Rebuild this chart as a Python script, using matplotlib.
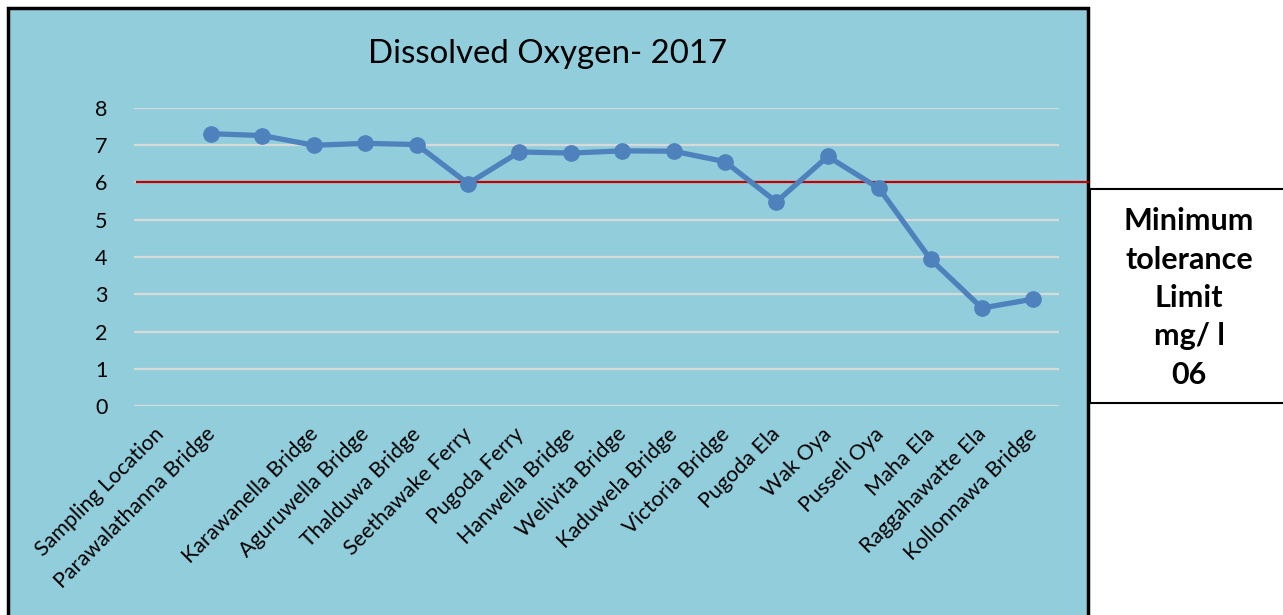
import matplotlib
matplotlib.use("Agg")
import matplotlib.pyplot as plt
from matplotlib.patches import Rectangle
from matplotlib.transforms import ScaledTranslation, blended_transform_factory
import numpy as np

plt.rcParams['font.family'] = ['Lato', 'DejaVu Sans']

# ---- data ----
categories = ["Sampling Location", "Parawalathanna Bridge", "", "Karawanella Bridge",
              "Aguruwella Bridge", "Thalduwa Bridge", "Seethawake Ferry", "Pugoda Ferry",
              "Hanwella Bridge", "Welivita Bridge", "Kaduwela Bridge", "Victoria Bridge",
              "Pugoda Ela", "Wak Oya", "Pusseli Oya", "Maha Ela", "Raggahawatte Ela",
              "Kollonnawa Bridge"]
do_values = [np.nan, 7.31, 7.26, 7.00, 7.05, 7.02, 5.97, 6.82, 6.79, 6.85, 6.84,
             6.56, 5.48, 6.70, 5.84, 3.94, 2.63, 2.87]
limit_value = 6
y_ticks = [0, 1, 2, 3, 4, 5, 6, 7, 8]
title = "Dissolved Oxygen- 2017"
box_text = "Minimum\ntolerance\nLimit\nmg/ l\n06"

W, H = 1283, 615
fig = plt.figure(figsize=(W / 100, H / 100), dpi=100)
fig.patch.set_facecolor("white")

def fx(px):
    return px / W

def fy(py):
    return 1 - py / H

# chart area background + border
bg = Rectangle((fx(8), fy(640)), fx(1088) - fx(8), fy(8) - fy(640),
               transform=fig.transFigure, facecolor="#92CDDC",
               edgecolor="black", linewidth=2.5, zorder=-1)
fig.patches.append(bg)

ax = fig.add_axes([fx(134), fy(406), fx(1059) - fx(134), fy(108) - fy(406)])
ax.set_zorder(1)
ax.set_facecolor("none")
x = np.arange(len(categories))
ax.plot(x, do_values, color="#4F81BD", linewidth=3.8, marker="o",
        markersize=11, zorder=3, solid_capstyle="round")
ax.set_xlim(-0.5, len(categories) - 0.5)
ax.set_ylim(0, 8)
ax.set_yticks(y_ticks)
ax.set_xticks(x)
ax.set_xticklabels([])

# category labels, positioned on the category axis with a pixel offset
lab_tr = blended_transform_factory(ax.transData, ax.transAxes) + \
    ScaledTranslation(-6 / 100, -18 / 100, fig.dpi_scale_trans)
for xi, name in zip(x, categories):
    ax.text(xi, 0, name, transform=lab_tr, rotation=45, ha="right", va="top",
            rotation_mode="anchor", fontsize=15.5, clip_on=False)

ax.tick_params(axis="x", length=0)
ax.tick_params(axis="y", length=0, pad=19, labelsize=15.5)
for s in ax.spines.values():
    s.set_visible(False)
ax.yaxis.grid(True, color="#D9D9D9", linewidth=1.6, zorder=1)
ax.set_axisbelow(True)

# red limit line extending to chart border
tr = blended_transform_factory(ax.transAxes, ax.transData)
x_end = (1088 - 134) / (1059 - 134)
ax.plot([0.003, x_end], [limit_value, limit_value], color="#C00000",
        linewidth=1.6, transform=tr, clip_on=False, zorder=2)

fig.text(fx(548), fy(54), title, ha="center", va="center", fontsize=23.8)

# annotation box
box = Rectangle((fx(1090), fy(403)), fx(1300) - fx(1090), fy(189) - fy(403),
                transform=fig.transFigure, facecolor="white", edgecolor="black",
                linewidth=1.5, zorder=5)
fig.patches.append(box)
fig.text(fx(1189), fy(298), box_text, ha="center", va="center", fontsize=22,
         fontweight="bold", linespacing=1.45, zorder=6)

fig.savefig("out.png", dpi=100)
